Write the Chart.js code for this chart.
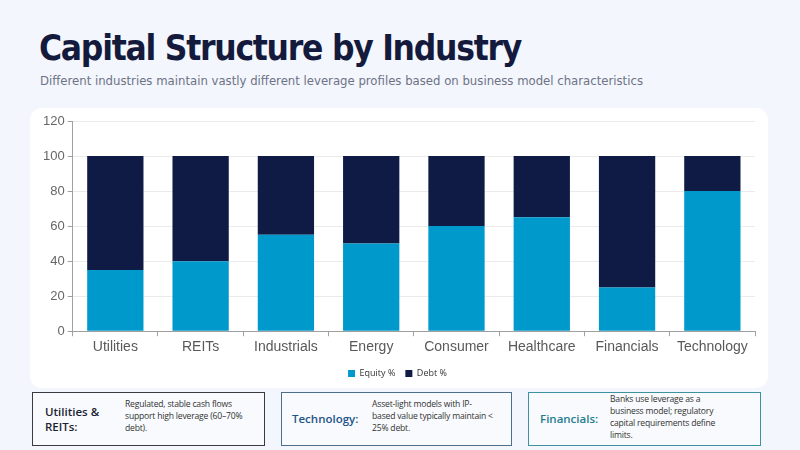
<!DOCTYPE html>
<html>
<head>
<meta charset="utf-8">
<script src="https://cdn.jsdelivr.net/npm/chart.js@4"></script>
<style>
  html,body{margin:0;padding:0;}
  body{width:800px;height:450px;background:#f3f6fd;position:relative;overflow:hidden;font-family:"Open Sans",sans-serif;}
  #title{position:absolute;left:39px;top:28px;font-family:"DejaVu Sans Condensed","DejaVu Sans",sans-serif;font-weight:bold;font-size:35px;color:#141a3c;white-space:nowrap;letter-spacing:-1.25px;}
  #sub{position:absolute;left:40px;top:73px;font-family:"DejaVu Sans Condensed","DejaVu Sans",sans-serif;font-size:13px;color:#6e7285;white-space:nowrap;}
  #card{position:absolute;left:30px;top:108px;width:738px;height:280px;background:#ffffff;border-radius:12px;}
  #card canvas{position:absolute;left:0;top:0;}
  .box{position:absolute;top:392px;height:54px;background:#f8fafd;border:1.5px solid #333;box-sizing:border-box;}
  .lab{position:absolute;font-family:"Open Sans",sans-serif;font-size:11.5px;font-weight:600;line-height:15px;}
  .desc{position:absolute;font-family:"Open Sans",sans-serif;font-size:8.6px;line-height:12px;color:#333;letter-spacing:-0.2px;}
</style>
</head>
<body>
<div id="title">Capital Structure by Industry</div>
<div id="sub">Different industries maintain vastly different leverage profiles based on business model characteristics</div>
<div id="card"><canvas id="c" width="738" height="280"></canvas></div>

<div class="box" style="left:32px;width:233px;border-color:#3a3a44;">
  <div class="lab" style="left:12px;top:11px;color:#1c1f33;">Utilities &amp;<br>REITs:</div>
  <div class="desc" style="left:92px;top:5px;width:128px;">Regulated, stable cash flows support high leverage (60–70% debt).</div>
</div>
<div class="box" style="left:281px;width:231px;border-color:#4d6f8c;">
  <div class="lab" style="left:10px;top:18px;color:#1f5486;">Technology:</div>
  <div class="desc" style="left:90px;top:5px;width:122px;">Asset-light models with IP-based value typically maintain &lt; 25% debt.</div>
</div>
<div class="box" style="left:528px;width:233px;border-color:#3c93a0;">
  <div class="lab" style="left:11px;top:18px;color:#1f7d8e;">Financials:</div>
  <div class="desc" style="left:81px;top:0px;width:120px;">Banks use leverage as a business model; regulatory capital requirements define limits.</div>
</div>

<script>
const categories = ["Utilities","REITs","Industrials","Energy","Consumer","Healthcare","Financials","Technology"];
const equityPct = [35, 40, 55, 50, 60, 65, 25, 80];
const debtPct   = [65, 60, 45, 50, 40, 35, 75, 20];
const yTicks = [0, 20, 40, 60, 80, 100, 120];

new Chart(document.getElementById('c'), {
  type: 'bar',
  data: {
    labels: categories,
    datasets: [
      {label: 'Equity %', data: equityPct, backgroundColor: '#0099cc', barPercentage: 0.66, categoryPercentage: 1},
      {label: 'Debt %', data: debtPct, backgroundColor: '#0f1b45', barPercentage: 0.66, categoryPercentage: 1}
    ]
  },
  options: {
    responsive: false,
    animation: false,
    layout: {padding: {left: 10, right: 13, top: 13, bottom: 0}},
    plugins: {
      legend: {
        position: 'bottom',
        labels: {boxWidth: 7, boxHeight: 7, padding: 10, color: '#333', font: {family: 'Open Sans', size: 9}}
      },
      tooltip: {enabled: false}
    },
    scales: {
      x: {
        stacked: true,
        grid: {display: true, drawOnChartArea: false, offset: true, tickLength: 5, tickColor: '#a0a0a0'},
        border: {color: '#a0a0a0'},
        ticks: {color: '#595959', font: {family: 'Liberation Sans', size: 14}, padding: 3}
      },
      y: {
        stacked: true,
        min: 0, max: 120,
        afterBuildTicks: (ax) => { ax.ticks = yTicks.map(v => ({value: v})); },
        grid: {color: '#ebebeb', tickLength: 5, tickColor: '#a0a0a0'},
        border: {color: '#a0a0a0'},
        ticks: {color: '#666', font: {family: 'Liberation Sans', size: 13}, padding: 3}
      }
    }
  }
});
</script>
</body>
</html>
